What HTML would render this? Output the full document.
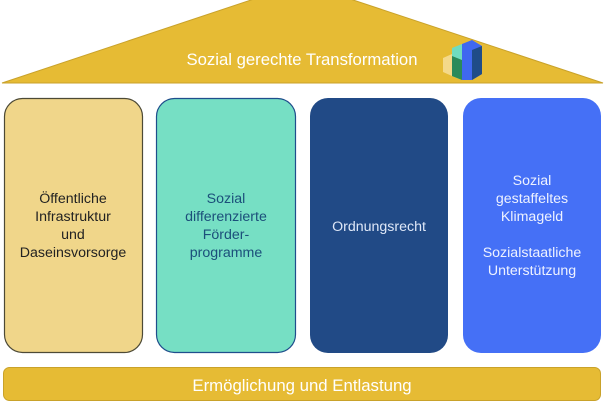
<!DOCTYPE html>
<html><head><meta charset="utf-8"><style>
html,body{margin:0;padding:0;background:#fff;width:605px;height:403px;overflow:hidden}
svg{display:block}
text{font-family:"Liberation Sans",sans-serif;font-size:14.2px;text-anchor:middle}
</style></head><body>
<svg width="605" height="403" viewBox="0 0 605 403">
<polygon points="2,83 302,-17 603,83" fill="#e6bb34" stroke="#c9a22a" stroke-width="1"/>
<text x="302" y="65" fill="#fff" style="font-size:16.7px">Sozial gerechte Transformation</text>
<g>
<polygon points="443,58 452,54 452,76 443,72" fill="#f4d98a"/>
<polygon points="452,48 462,44 462,80 452,76" fill="#6fdcc0"/>
<polygon points="452,56 462,60 462,80 452,76" fill="#2a8a5a"/>
<polygon points="462,44 472,40 482,46 482,74 472,80 462,80" fill="#3f68f0"/>
<polygon points="472,50 482,46 482,74 472,80" fill="#1f4c88"/>
</g>
<rect x="4.5" y="98.5" width="138" height="254" rx="18" fill="#f0d68a" stroke="#4d4a36" stroke-width="1.2"/>
<rect x="156.5" y="98.5" width="139" height="254" rx="18" fill="#76dfc4" stroke="#1f4e8c" stroke-width="1.2"/>
<rect x="310" y="98" width="138" height="255" rx="18" fill="#214a86"/>
<rect x="463" y="98" width="138" height="255" rx="18" fill="#4570f6"/>
<g fill="#222">
<text x="73" y="203">Öffentliche</text>
<text x="73" y="221">Infrastruktur</text>
<text x="73" y="239">und</text>
<text x="73" y="257">Daseinsvorsorge</text>
</g>
<g fill="#1b4f7a">
<text x="226" y="203">Sozial</text>
<text x="226" y="221">differenzierte</text>
<text x="226" y="239">Förder-</text>
<text x="226" y="257">programme</text>
</g>
<text x="379" y="231" fill="#dfe8f8">Ordnungsrecht</text>
<g fill="#eef2ff">
<text x="532" y="185">Sozial</text>
<text x="532" y="203">gestaffeltes</text>
<text x="532" y="221">Klimageld</text>
<text x="532" y="257">Sozialstaatliche</text>
<text x="532" y="275">Unterstützung</text>
</g>
<rect x="3.5" y="367.5" width="597" height="33" rx="6" fill="#e6bb34" stroke="#c9a22a" stroke-width="1"/>
<text x="302" y="391" fill="#fff" style="font-size:16.8px">Ermöglichung und Entlastung</text>
</svg>
</body></html>
